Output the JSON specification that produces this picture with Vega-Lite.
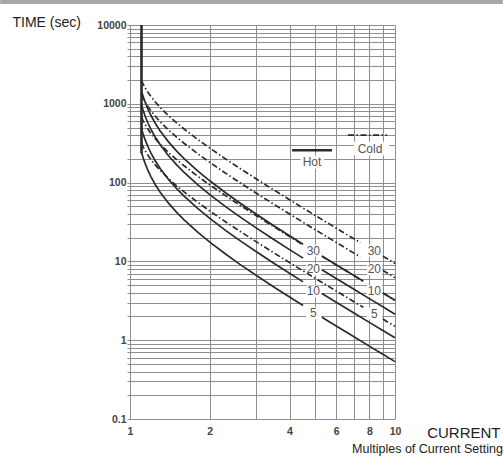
{
  "$schema": "https://vega.github.io/schema/vega-lite/v6.json",
  "width": 265,
  "height": 394,
  "autosize": {"type": "none"},
  "padding": {"left": 130, "top": 25, "right": 108, "bottom": 38},
  "background": "white",
  "config": {"view": {"stroke": null}, "font": "Liberation Sans"},
  "title": {"text": "Multiples of Current Setting", "orient": "bottom", "anchor": "end", "fontSize": 12.5, "fontWeight": "normal", "color": "#222", "font": "Liberation Sans", "offset": 3},
  "datasets": {
    "band": [
      {"x": 0.3236, "x2": 25.53, "t": 18480, "t2": 20750}
    ],
    "boxes": [
      {"x": 4.615, "x2": 5.258, "t": 11.48, "t2": 16.28},
      {"x": 4.615, "x2": 5.258, "t": 6.67, "t2": 9.46},
      {"x": 4.615, "x2": 5.258, "t": 3.48, "t2": 4.94},
      {"x": 4.615, "x2": 5.258, "t": 1.84, "t2": 2.61},
      {"x": 7.84, "x2": 8.93, "t": 11.48, "t2": 16.28},
      {"x": 7.84, "x2": 8.93, "t": 6.67, "t2": 9.46},
      {"x": 7.84, "x2": 8.93, "t": 3.53, "t2": 5.01},
      {"x": 7.84, "x2": 8.93, "t": 1.83, "t2": 2.6},
      {"x": 4.4, "x2": 5.4, "t": 150, "t2": 220},
      {"x": 7.0, "x2": 9.5, "t": 220, "t2": 330}
    ],
    "labels": [
      {"txt": "30", "x": 4.917, "t": 13.67},
      {"txt": "20", "x": 4.917, "t": 7.94},
      {"txt": "10", "x": 4.917, "t": 4.15},
      {"txt": "5", "x": 4.917, "t": 2.19},
      {"txt": "30", "x": 8.354, "t": 13.67},
      {"txt": "20", "x": 8.354, "t": 7.94},
      {"txt": "10", "x": 8.354, "t": 4.21},
      {"txt": "5", "x": 8.354, "t": 2.18},
      {"txt": "Hot", "x": 4.862, "t": 181.5},
      {"txt": "Cold", "x": 8.05, "t": 264.7}
    ],
    "curves": [
      {"s": "V", "k": "v", "x": 1.105, "t": 10000},
      {"s": "V", "k": "v", "x": 1.105, "t": 235},
      {"s": "LH", "k": "v", "x": 4.087, "t": 257.8},
      {"s": "LH", "k": "v", "x": 5.784, "t": 257.8},
      {"s": "LC", "k": "c", "x": 6.647, "t": 399.5},
      {"s": "LC", "k": "c", "x": 9.328, "t": 399.5},

      {"s": "H5a", "k": "h", "x": 1.105, "t": 243.5},
      {"s": "H5a", "k": "h", "x": 1.11, "t": 230.6},
      {"s": "H5a", "k": "h", "x": 1.12, "t": 208.6},
      {"s": "H5a", "k": "h", "x": 1.14, "t": 175.4},
      {"s": "H5a", "k": "h", "x": 1.17, "t": 141.5},
      {"s": "H5a", "k": "h", "x": 1.2, "t": 118.4},
      {"s": "H5a", "k": "h", "x": 1.25, "t": 92.6},
      {"s": "H5a", "k": "h", "x": 1.3, "t": 75.5},
      {"s": "H5a", "k": "h", "x": 1.4, "t": 54.4},
      {"s": "H5a", "k": "h", "x": 1.5, "t": 41.9},
      {"s": "H5a", "k": "h", "x": 1.6, "t": 33.6},
      {"s": "H5a", "k": "h", "x": 1.8, "t": 23.5},
      {"s": "H5a", "k": "h", "x": 2, "t": 17.57},
      {"s": "H5a", "k": "h", "x": 2.3, "t": 12.31},
      {"s": "H5a", "k": "h", "x": 2.6, "t": 9.17},
      {"s": "H5a", "k": "h", "x": 3, "t": 6.61},
      {"s": "H5a", "k": "h", "x": 3.5, "t": 4.7},
      {"s": "H5a", "k": "h", "x": 4, "t": 3.53},
      {"s": "H5a", "k": "h", "x": 4.5, "t": 2.75},
      {"s": "H5b", "k": "h", "x": 5.3, "t": 1.956},
      {"s": "H5b", "k": "h", "x": 6, "t": 1.514},
      {"s": "H5b", "k": "h", "x": 7, "t": 1.104},
      {"s": "H5b", "k": "h", "x": 8, "t": 0.841},
      {"s": "H5b", "k": "h", "x": 9, "t": 0.662},
      {"s": "H5b", "k": "h", "x": 10, "t": 0.535},

      {"s": "H10a", "k": "h", "x": 1.105, "t": 487},
      {"s": "H10a", "k": "h", "x": 1.11, "t": 461},
      {"s": "H10a", "k": "h", "x": 1.12, "t": 417},
      {"s": "H10a", "k": "h", "x": 1.14, "t": 350.7},
      {"s": "H10a", "k": "h", "x": 1.17, "t": 283},
      {"s": "H10a", "k": "h", "x": 1.2, "t": 236.7},
      {"s": "H10a", "k": "h", "x": 1.25, "t": 185.1},
      {"s": "H10a", "k": "h", "x": 1.3, "t": 151.1},
      {"s": "H10a", "k": "h", "x": 1.4, "t": 108.9},
      {"s": "H10a", "k": "h", "x": 1.5, "t": 83.8},
      {"s": "H10a", "k": "h", "x": 1.6, "t": 67.3},
      {"s": "H10a", "k": "h", "x": 1.8, "t": 47.0},
      {"s": "H10a", "k": "h", "x": 2, "t": 35.1},
      {"s": "H10a", "k": "h", "x": 2.3, "t": 24.6},
      {"s": "H10a", "k": "h", "x": 2.6, "t": 18.35},
      {"s": "H10a", "k": "h", "x": 3, "t": 13.23},
      {"s": "H10a", "k": "h", "x": 3.5, "t": 9.41},
      {"s": "H10a", "k": "h", "x": 4, "t": 7.06},
      {"s": "H10a", "k": "h", "x": 4.5, "t": 5.5},
      {"s": "H10b", "k": "h", "x": 5.3, "t": 3.91},
      {"s": "H10b", "k": "h", "x": 6, "t": 3.03},
      {"s": "H10b", "k": "h", "x": 7, "t": 2.21},
      {"s": "H10b", "k": "h", "x": 8, "t": 1.683},
      {"s": "H10b", "k": "h", "x": 9, "t": 1.325},
      {"s": "H10b", "k": "h", "x": 10, "t": 1.071},

      {"s": "H20a", "k": "h", "x": 1.105, "t": 974},
      {"s": "H20a", "k": "h", "x": 1.11, "t": 922},
      {"s": "H20a", "k": "h", "x": 1.12, "t": 834},
      {"s": "H20a", "k": "h", "x": 1.14, "t": 701},
      {"s": "H20a", "k": "h", "x": 1.17, "t": 566},
      {"s": "H20a", "k": "h", "x": 1.2, "t": 473},
      {"s": "H20a", "k": "h", "x": 1.25, "t": 370},
      {"s": "H20a", "k": "h", "x": 1.3, "t": 302},
      {"s": "H20a", "k": "h", "x": 1.4, "t": 217.7},
      {"s": "H20a", "k": "h", "x": 1.5, "t": 167.6},
      {"s": "H20a", "k": "h", "x": 1.6, "t": 134.6},
      {"s": "H20a", "k": "h", "x": 1.8, "t": 94.0},
      {"s": "H20a", "k": "h", "x": 2, "t": 70.3},
      {"s": "H20a", "k": "h", "x": 2.3, "t": 49.2},
      {"s": "H20a", "k": "h", "x": 2.6, "t": 36.7},
      {"s": "H20a", "k": "h", "x": 3, "t": 26.45},
      {"s": "H20a", "k": "h", "x": 3.5, "t": 18.82},
      {"s": "H20a", "k": "h", "x": 4, "t": 14.12},
      {"s": "H20a", "k": "h", "x": 4.5, "t": 11.0},
      {"s": "H20b", "k": "h", "x": 5.3, "t": 7.82},
      {"s": "H20b", "k": "h", "x": 6, "t": 6.06},
      {"s": "H20b", "k": "h", "x": 7, "t": 4.42},
      {"s": "H20b", "k": "h", "x": 8, "t": 3.37},
      {"s": "H20b", "k": "h", "x": 9, "t": 2.65},
      {"s": "H20b", "k": "h", "x": 10, "t": 2.14},

      {"s": "H30a", "k": "h", "x": 1.105, "t": 1461},
      {"s": "H30a", "k": "h", "x": 1.11, "t": 1383},
      {"s": "H30a", "k": "h", "x": 1.12, "t": 1251},
      {"s": "H30a", "k": "h", "x": 1.14, "t": 1052},
      {"s": "H30a", "k": "h", "x": 1.17, "t": 849},
      {"s": "H30a", "k": "h", "x": 1.2, "t": 710},
      {"s": "H30a", "k": "h", "x": 1.25, "t": 555},
      {"s": "H30a", "k": "h", "x": 1.3, "t": 453},
      {"s": "H30a", "k": "h", "x": 1.4, "t": 326.6},
      {"s": "H30a", "k": "h", "x": 1.5, "t": 251.4},
      {"s": "H30a", "k": "h", "x": 1.6, "t": 201.9},
      {"s": "H30a", "k": "h", "x": 1.8, "t": 140.9},
      {"s": "H30a", "k": "h", "x": 2, "t": 105.4},
      {"s": "H30a", "k": "h", "x": 2.3, "t": 73.8},
      {"s": "H30a", "k": "h", "x": 2.6, "t": 55.0},
      {"s": "H30a", "k": "h", "x": 3, "t": 39.7},
      {"s": "H30a", "k": "h", "x": 3.5, "t": 28.2},
      {"s": "H30a", "k": "h", "x": 4, "t": 21.2},
      {"s": "H30a", "k": "h", "x": 4.5, "t": 16.5},
      {"s": "H30b", "k": "h", "x": 5.3, "t": 11.73},
      {"s": "H30b", "k": "h", "x": 6, "t": 9.08},
      {"s": "H30b", "k": "h", "x": 7, "t": 6.62},
      {"s": "H30b", "k": "h", "x": 7.6, "t": 5.6},
      {"s": "H30c", "k": "h", "x": 9, "t": 3.97},
      {"s": "H30c", "k": "h", "x": 10, "t": 3.21},

      {"s": "C5a", "k": "c", "x": 1.105, "t": 315.6},
      {"s": "C5a", "k": "c", "x": 1.11, "t": 304.7},
      {"s": "C5a", "k": "c", "x": 1.12, "t": 285.6},
      {"s": "C5a", "k": "c", "x": 1.14, "t": 255.2},
      {"s": "C5a", "k": "c", "x": 1.17, "t": 221.4},
      {"s": "C5a", "k": "c", "x": 1.2, "t": 196.3},
      {"s": "C5a", "k": "c", "x": 1.25, "t": 165.4},
      {"s": "C5a", "k": "c", "x": 1.3, "t": 143.0},
      {"s": "C5a", "k": "c", "x": 1.4, "t": 111.9},
      {"s": "C5a", "k": "c", "x": 1.5, "t": 91.1},
      {"s": "C5a", "k": "c", "x": 1.6, "t": 76.2},
      {"s": "C5a", "k": "c", "x": 1.8, "t": 56.3},
      {"s": "C5a", "k": "c", "x": 2, "t": 43.6},
      {"s": "C5a", "k": "c", "x": 2.3, "t": 31.6},
      {"s": "C5a", "k": "c", "x": 2.6, "t": 24.1},
      {"s": "C5a", "k": "c", "x": 3, "t": 17.68},
      {"s": "C5a", "k": "c", "x": 3.5, "t": 12.76},
      {"s": "C5a", "k": "c", "x": 4, "t": 9.66},
      {"s": "C5a", "k": "c", "x": 4.5, "t": 7.57},
      {"s": "C5a", "k": "c", "x": 5, "t": 6.1},
      {"s": "C5a", "k": "c", "x": 6, "t": 4.21},
      {"s": "C5a", "k": "c", "x": 7, "t": 3.08},
      {"s": "C5a", "k": "c", "x": 7.6, "t": 2.61},
      {"s": "C5b", "k": "c", "x": 9, "t": 1.854},
      {"s": "C5b", "k": "c", "x": 10, "t": 1.5},

      {"s": "C10a", "k": "c", "x": 1.105, "t": 676},
      {"s": "C10a", "k": "c", "x": 1.11, "t": 653},
      {"s": "C10a", "k": "c", "x": 1.12, "t": 612},
      {"s": "C10a", "k": "c", "x": 1.14, "t": 547},
      {"s": "C10a", "k": "c", "x": 1.17, "t": 474.6},
      {"s": "C10a", "k": "c", "x": 1.2, "t": 420.7},
      {"s": "C10a", "k": "c", "x": 1.25, "t": 354.6},
      {"s": "C10a", "k": "c", "x": 1.3, "t": 306.4},
      {"s": "C10a", "k": "c", "x": 1.4, "t": 239.7},
      {"s": "C10a", "k": "c", "x": 1.5, "t": 195.3},
      {"s": "C10a", "k": "c", "x": 1.6, "t": 163.4},
      {"s": "C10a", "k": "c", "x": 1.8, "t": 120.6},
      {"s": "C10a", "k": "c", "x": 2, "t": 93.5},
      {"s": "C10a", "k": "c", "x": 2.3, "t": 67.8},
      {"s": "C10a", "k": "c", "x": 2.6, "t": 51.6},
      {"s": "C10a", "k": "c", "x": 3, "t": 37.9},
      {"s": "C10a", "k": "c", "x": 3.5, "t": 27.35},
      {"s": "C10a", "k": "c", "x": 4, "t": 20.7},
      {"s": "C10a", "k": "c", "x": 4.5, "t": 16.23},
      {"s": "C10b", "k": "c", "x": 5.3, "t": 11.61},
      {"s": "C10b", "k": "c", "x": 6, "t": 9.02},
      {"s": "C10b", "k": "c", "x": 7, "t": 6.6},
      {"s": "C10b", "k": "c", "x": 7.6, "t": 5.59},
      {"s": "C10c", "k": "c", "x": 9, "t": 3.97},
      {"s": "C10c", "k": "c", "x": 10, "t": 3.21},

      {"s": "C20a", "k": "c", "x": 1.105, "t": 1306},
      {"s": "C20a", "k": "c", "x": 1.11, "t": 1261},
      {"s": "C20a", "k": "c", "x": 1.12, "t": 1182},
      {"s": "C20a", "k": "c", "x": 1.14, "t": 1056},
      {"s": "C20a", "k": "c", "x": 1.17, "t": 916.6},
      {"s": "C20a", "k": "c", "x": 1.2, "t": 812.4},
      {"s": "C20a", "k": "c", "x": 1.25, "t": 684.8},
      {"s": "C20a", "k": "c", "x": 1.3, "t": 591.7},
      {"s": "C20a", "k": "c", "x": 1.4, "t": 463.0},
      {"s": "C20a", "k": "c", "x": 1.5, "t": 377.0},
      {"s": "C20a", "k": "c", "x": 1.6, "t": 315.4},
      {"s": "C20a", "k": "c", "x": 1.8, "t": 232.9},
      {"s": "C20a", "k": "c", "x": 2, "t": 180.6},
      {"s": "C20a", "k": "c", "x": 2.3, "t": 130.9},
      {"s": "C20a", "k": "c", "x": 2.6, "t": 99.7},
      {"s": "C20a", "k": "c", "x": 3, "t": 73.2},
      {"s": "C20a", "k": "c", "x": 3.5, "t": 52.8},
      {"s": "C20a", "k": "c", "x": 4, "t": 40.0},
      {"s": "C20a", "k": "c", "x": 4.5, "t": 31.35},
      {"s": "C20a", "k": "c", "x": 5, "t": 25.26},
      {"s": "C20a", "k": "c", "x": 6, "t": 17.42},
      {"s": "C20a", "k": "c", "x": 7, "t": 12.74},
      {"s": "C20a", "k": "c", "x": 7.4, "t": 11.39},
      {"s": "C20b", "k": "c", "x": 9, "t": 7.67},
      {"s": "C20b", "k": "c", "x": 10, "t": 6.21},

      {"s": "C30a", "k": "c", "x": 1.105, "t": 1982},
      {"s": "C30a", "k": "c", "x": 1.11, "t": 1914},
      {"s": "C30a", "k": "c", "x": 1.12, "t": 1795},
      {"s": "C30a", "k": "c", "x": 1.14, "t": 1603},
      {"s": "C30a", "k": "c", "x": 1.17, "t": 1391},
      {"s": "C30a", "k": "c", "x": 1.2, "t": 1233},
      {"s": "C30a", "k": "c", "x": 1.25, "t": 1039},
      {"s": "C30a", "k": "c", "x": 1.3, "t": 898},
      {"s": "C30a", "k": "c", "x": 1.4, "t": 702.7},
      {"s": "C30a", "k": "c", "x": 1.5, "t": 572.3},
      {"s": "C30a", "k": "c", "x": 1.6, "t": 478.8},
      {"s": "C30a", "k": "c", "x": 1.8, "t": 353.5},
      {"s": "C30a", "k": "c", "x": 2, "t": 274.1},
      {"s": "C30a", "k": "c", "x": 2.3, "t": 198.7},
      {"s": "C30a", "k": "c", "x": 2.6, "t": 151.4},
      {"s": "C30a", "k": "c", "x": 3, "t": 111.1},
      {"s": "C30a", "k": "c", "x": 3.5, "t": 80.2},
      {"s": "C30a", "k": "c", "x": 4, "t": 60.7},
      {"s": "C30a", "k": "c", "x": 4.5, "t": 47.6},
      {"s": "C30a", "k": "c", "x": 5, "t": 38.3},
      {"s": "C30a", "k": "c", "x": 6, "t": 26.4},
      {"s": "C30a", "k": "c", "x": 7, "t": 19.34},
      {"s": "C30a", "k": "c", "x": 7.4, "t": 17.29},
      {"s": "C30b", "k": "c", "x": 9, "t": 11.65},
      {"s": "C30b", "k": "c", "x": 10, "t": 9.42}
    ]
  },
  "encoding": {
    "x": {
      "field": "x", "type": "quantitative",
      "scale": {"type": "log", "domain": [1, 10], "nice": false},
      "axis": {
        "values": [1, 2, 3, 4, 5, 6, 7, 8, 9, 10],
        "grid": true, "gridColor": "#8e8e8e", "gridWidth": 1,
        "ticks": false, "domain": false,
        "labelExpr": "indexof([1,2,4,6,8,10], datum.value) >= 0 ? format(datum.value, 'd') : ''",
        "labelFont": "Liberation Sans", "labelFontSize": 10.5, "labelFontWeight": "bold", "labelColor": "#444",
        "labelPadding": 7, "labelOverlap": false, "labelFlush": false,
        "title": "CURRENT", "titleX": 370, "titleY": 18, "titleAlign": "right", "titleBaseline": "alphabetic",
        "titleFont": "Liberation Sans", "titleFontSize": 15, "titleFontWeight": "normal", "titleColor": "#222"
      }
    },
    "y": {
      "field": "t", "type": "quantitative",
      "scale": {"type": "log", "domain": [0.1, 10000], "nice": false},
      "axis": {
        "values": [0.1, 0.2, 0.3, 0.4, 0.5, 0.6, 0.7, 0.8, 0.9, 1, 2, 3, 4, 5, 6, 7, 8, 9, 10, 20, 30, 40, 50, 60, 70, 80, 90, 100, 200, 300, 400, 500, 600, 700, 800, 900, 1000, 2000, 3000, 4000, 5000, 6000, 7000, 8000, 9000, 10000],
        "grid": true, "gridColor": "#8e8e8e", "gridWidth": 1,
        "ticks": true, "tickSize": 3, "tickColor": "#8e8e8e", "domain": false,
        "labelExpr": "datum.value == 0.1 ? '0.1' : (indexof([1,10,100,1000,10000], datum.value) >= 0 ? format(datum.value, 'd') : '')",
        "labelFont": "Liberation Sans", "labelFontSize": 10.5, "labelFontWeight": "bold", "labelColor": "#444",
        "labelPadding": 1, "labelOverlap": false, "labelFlush": false,
        "title": "TIME (sec)", "titleAngle": 0, "titleX": -118, "titleY": 1, "titleAlign": "left", "titleBaseline": "alphabetic",
        "titleFont": "Liberation Sans", "titleFontSize": 14, "titleFontWeight": "normal", "titleColor": "#222"
      }
    }
  },
  "layer": [
    {
      "data": {"name": "band"},
      "mark": {"type": "rect", "fill": "#a8a8a8", "clip": false},
      "encoding": {
        "x2": {"field": "x2"},
        "y2": {"field": "t2"}
      }
    },
    {
      "data": {"name": "boxes"},
      "mark": {"type": "rect", "fill": "white"},
      "encoding": {
        "x2": {"field": "x2"},
        "y2": {"field": "t2"}
      }
    },
    {
      "data": {"name": "curves"},
      "transform": [{"filter": "datum.k == 'h'"}],
      "mark": {"type": "line", "color": "#2b2b2b", "strokeWidth": 1.7, "strokeCap": "butt"},
      "encoding": {"detail": {"field": "s"}}
    },
    {
      "data": {"name": "curves"},
      "transform": [{"filter": "datum.k == 'c'"}],
      "mark": {"type": "line", "color": "#2b2b2b", "strokeWidth": 1.7, "strokeCap": "butt", "strokeDash": [6, 2.5, 1.5, 2.5]},
      "encoding": {"detail": {"field": "s"}}
    },
    {
      "data": {"name": "curves"},
      "transform": [{"filter": "datum.k == 'v'"}],
      "mark": {"type": "line", "color": "#2b2b2b", "strokeWidth": 2.6, "strokeCap": "butt"},
      "encoding": {"detail": {"field": "s"}}
    },
    {
      "data": {"name": "labels"},
      "mark": {"type": "text", "font": "Liberation Sans", "fontSize": 12, "color": "#555", "align": "center", "baseline": "middle"},
      "encoding": {"text": {"field": "txt"}}
    }
  ]
}
